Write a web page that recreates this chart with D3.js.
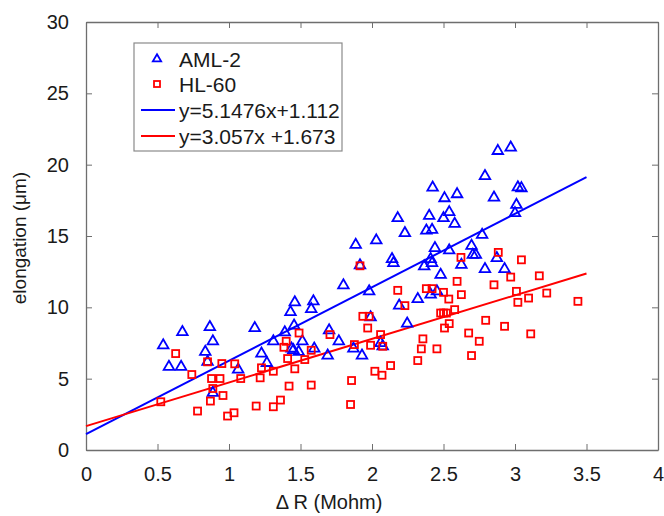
<!DOCTYPE html>
<html lang="en">
<head>
    <meta charset="UTF-8">
    <title>Elongation vs Delta R</title>
    <script src="https://cdn.jsdelivr.net/npm/d3@7"></script>
    <style>
        body { margin: 0; background: #fff; }
        text { font-family: Arial, "Liberation Sans", sans-serif; fill: #1a1a1a; }
    </style>
</head>
<body>
<script>
    // AML-2 cells (blue triangles)
    var amlX = [0.54, 0.58, 0.665, 0.674, 0.834, 0.85, 0.866, 0.887, 0.887, 1.064,
        1.18, 1.227, 1.265, 1.31, 1.39, 1.43, 1.437, 1.455, 1.46, 1.45,
        1.487, 1.513, 1.575, 1.59, 1.596, 1.69, 1.70, 1.768, 1.80, 1.87,
        1.886, 1.916, 1.93, 1.98, 1.99, 2.03, 2.06, 2.075, 2.14, 2.15,
        2.18, 2.19, 2.23, 2.246, 2.32, 2.365, 2.38, 2.40, 2.41, 2.42,
        2.42, 2.424, 2.41, 2.44, 2.454, 2.48, 2.50, 2.507, 2.54, 2.54,
        2.578, 2.595, 2.625, 2.696, 2.705, 2.726, 2.77, 2.79, 2.79, 2.853,
        2.873, 2.88, 2.927, 2.97, 3.0, 3.01, 3.02, 3.045];
    var amlY = [7.34, 5.83, 5.83, 8.27, 6.88, 6.18, 8.62, 7.62, 4.0, 5.64,
        8.55, 6.76, 6.1, 7.62, 8.25, 9.67, 7.11, 8.72, 10.35, 7.0,
        6.88, 7.62, 9.88, 10.42, 7.11, 6.62, 8.39, 7.62, 11.54, 7.11,
        14.38, 12.94, 6.62, 11.12, 9.3, 14.69, 7.5, 7.27, 13.38, 13.1,
        16.25, 10.12, 15.2, 8.86, 10.58, 12.87, 15.38, 16.41, 13.38, 13.1,
        15.43, 18.39, 10.89, 14.15, 11.12, 12.28, 16.25, 17.65, 16.67, 13.99,
        15.85, 17.93, 12.98, 14.31, 13.68, 13.68, 15.08, 12.68, 19.2, 17.69,
        13.45, 20.96, 12.68, 21.2, 16.6, 17.18, 18.41, 18.35];

    // HL-60 cells (red squares)
    var hlX = [0.523, 0.627, 0.74, 0.78, 0.85, 0.87, 0.878, 0.887, 0.937, 0.95,
        0.958, 0.99, 1.035, 1.04, 1.082, 1.19, 1.218, 1.227, 1.31, 1.31,
        1.36, 1.384, 1.40, 1.41, 1.42, 1.46, 1.49, 1.53, 1.575, 1.575,
        1.706, 1.85, 1.857, 1.877, 1.916, 1.936, 1.97, 1.98, 1.99, 2.02,
        2.06, 2.07, 2.075, 2.13, 2.18, 2.23, 2.32, 2.345, 2.356, 2.38,
        2.42, 2.454, 2.48, 2.50, 2.52, 2.50, 2.507, 2.537, 2.54, 2.578,
        2.595, 2.622, 2.625, 2.676, 2.696, 2.75, 2.795, 2.853, 2.883, 2.927,
        2.97, 3.01, 3.02, 3.045, 3.095, 3.11, 3.17, 3.222, 3.44];
    var hlY = [3.38, 6.76, 5.29, 2.73, 6.18, 3.43, 5.01, 4.31, 5.01, 6.06,
        3.82, 2.38, 2.61, 6.04, 5.01, 3.08, 5.06, 5.76, 5.52, 3.03,
        3.5, 7.2, 7.62, 6.41, 4.48, 5.69, 8.2, 6.34, 6.99, 4.55,
        8.09, 3.19, 4.87, 7.39, 12.91, 9.37, 8.55, 9.37, 7.34, 5.52,
        8.09, 5.24, 7.27, 5.92, 11.19, 10.12, 6.27, 7.09, 7.79, 11.31,
        11.31, 7.09, 9.6, 9.6, 9.6, 11.05, 8.55, 10.58, 8.86, 9.84,
        11.82, 13.5, 10.89, 8.2, 6.62, 7.62, 9.09, 11.58, 13.85, 8.67,
        12.12, 11.12, 10.35, 13.33, 10.65, 8.14, 12.21, 11.0, 10.42];

    // linear fits shown in the legend
    var fitNames = ["y=5.1476x+1.112", "y=3.057x +1.673"];
    var fitSlope = [5.1476, 3.057];
    var fitIntercept = [1.112, 1.673];
    var fitRange = [0, 3.5];

    var xTicks = [0, 0.5, 1, 1.5, 2, 2.5, 3, 3.5, 4];
    var yTicks = [0, 5, 10, 15, 20, 25, 30];

    var width = 664, height = 516;
    var margin = {top: 22, right: 6, bottom: 66, left: 86};
    var w = width - margin.left - margin.right,
        h = height - margin.top - margin.bottom;

    var x = d3.scaleLinear().domain([0, 4]).range([0, w]);
    var y = d3.scaleLinear().domain([0, 30]).range([h, 0]);

    var svg = d3.select("body").append("svg")
        .attr("width", width)
        .attr("height", height);

    var g = svg.append("g")
        .attr("transform", "translate(" + margin.left + "," + margin.top + ")");

    // axes with inward ticks, box on all four sides
    var frameColor = "#6e6e6e";
    var tickLen = 6;

    g.append("g")
        .attr("transform", "translate(0," + h + ")")
        .call(d3.axisBottom(x).tickValues(xTicks).tickSizeInner(-tickLen).tickSizeOuter(0).tickPadding(17)
            .tickFormat(d3.format("")));
    g.append("g")
        .call(d3.axisTop(x).tickValues(xTicks).tickSizeInner(-tickLen).tickSizeOuter(0).tickFormat(""));
    g.append("g")
        .call(d3.axisLeft(y).tickValues(yTicks).tickSizeInner(-tickLen).tickSizeOuter(0).tickPadding(17));
    g.append("g")
        .attr("transform", "translate(" + w + ",0)")
        .call(d3.axisRight(y).tickValues(yTicks).tickSizeInner(-tickLen).tickSizeOuter(0).tickFormat(""));

    g.selectAll(".domain").attr("stroke", frameColor).attr("stroke-width", 1.3);
    g.selectAll(".tick line").attr("stroke", frameColor).attr("stroke-width", 1);
    g.selectAll(".tick text").attr("font-size", 20).attr("fill", "#1a1a1a");

    // fit lines
    var line = d3.line()
        .x(function(d) { return x(d[0]); })
        .y(function(d) { return y(d[1]); });
    var fitColors = ["#0000ff", "#ff0000"];
    fitSlope.forEach(function(m, i) {
        var pts = fitRange.map(function(v) { return [v, m * v + fitIntercept[i]]; });
        g.append("path")
            .attr("d", line(pts))
            .attr("fill", "none")
            .attr("stroke", fitColors[i])
            .attr("stroke-width", 2);
    });

    // markers
    var tri = d3.symbol().type(d3.symbolTriangle).size(48);
    g.selectAll(".aml")
        .data(d3.range(amlX.length))
        .enter().append("path")
        .attr("class", "aml")
        .attr("d", tri)
        .attr("transform", function(i) { return "translate(" + x(amlX[i]) + "," + y(amlY[i]) + ")"; })
        .attr("fill", "none")
        .attr("stroke", "#0000ff")
        .attr("stroke-width", 1.8);

    var sq = 7;
    g.selectAll(".hl")
        .data(d3.range(hlX.length))
        .enter().append("rect")
        .attr("class", "hl")
        .attr("x", function(i) { return x(hlX[i]) - sq / 2; })
        .attr("y", function(i) { return y(hlY[i]) - sq / 2; })
        .attr("width", sq)
        .attr("height", sq)
        .attr("fill", "none")
        .attr("stroke", "#ff0000")
        .attr("stroke-width", 1.8);

    // axis labels
    svg.append("text")
        .attr("x", margin.left + x(1.7))
        .attr("y", 509)
        .attr("text-anchor", "middle")
        .attr("font-size", 20)
        .text("\u0394 R (Mohm)");
    svg.append("text")
        .attr("transform", "translate(26," + (margin.top + 216) + ") rotate(-90)")
        .attr("text-anchor", "middle")
        .attr("font-size", 19)
        .text("elongation (\u03bcm)");

    // legend
    var leg = svg.append("g").attr("transform", "translate(134,43)");
    leg.append("rect")
        .attr("width", 208)
        .attr("height", 108)
        .attr("fill", "#fff")
        .attr("stroke", "#8a8a8a")
        .attr("stroke-width", 1.2);
    var rowY = [16, 41, 67, 93];
    leg.append("path")
        .attr("d", d3.symbol().type(d3.symbolTriangle).size(30))
        .attr("transform", "translate(23," + rowY[0] + ")")
        .attr("fill", "none").attr("stroke", "#0000ff").attr("stroke-width", 1.8);
    leg.append("rect")
        .attr("x", 20).attr("y", rowY[1] - 3).attr("width", 6).attr("height", 6)
        .attr("fill", "none").attr("stroke", "#ff0000").attr("stroke-width", 1.8);
    fitNames.forEach(function(n, i) {
        leg.append("line")
            .attr("x1", 7).attr("x2", 41)
            .attr("y1", rowY[i + 2]).attr("y2", rowY[i + 2])
            .attr("stroke", fitColors[i]).attr("stroke-width", 2);
    });
    var legLabels = ["AML-2", "HL-60"].concat(fitNames);
    legLabels.forEach(function(t, i) {
        leg.append("text")
            .attr("x", 45)
            .attr("y", rowY[i])
            .attr("dy", "0.36em")
            .attr("font-size", 21)
            .text(t);
    });
</script>
</body>
</html>
